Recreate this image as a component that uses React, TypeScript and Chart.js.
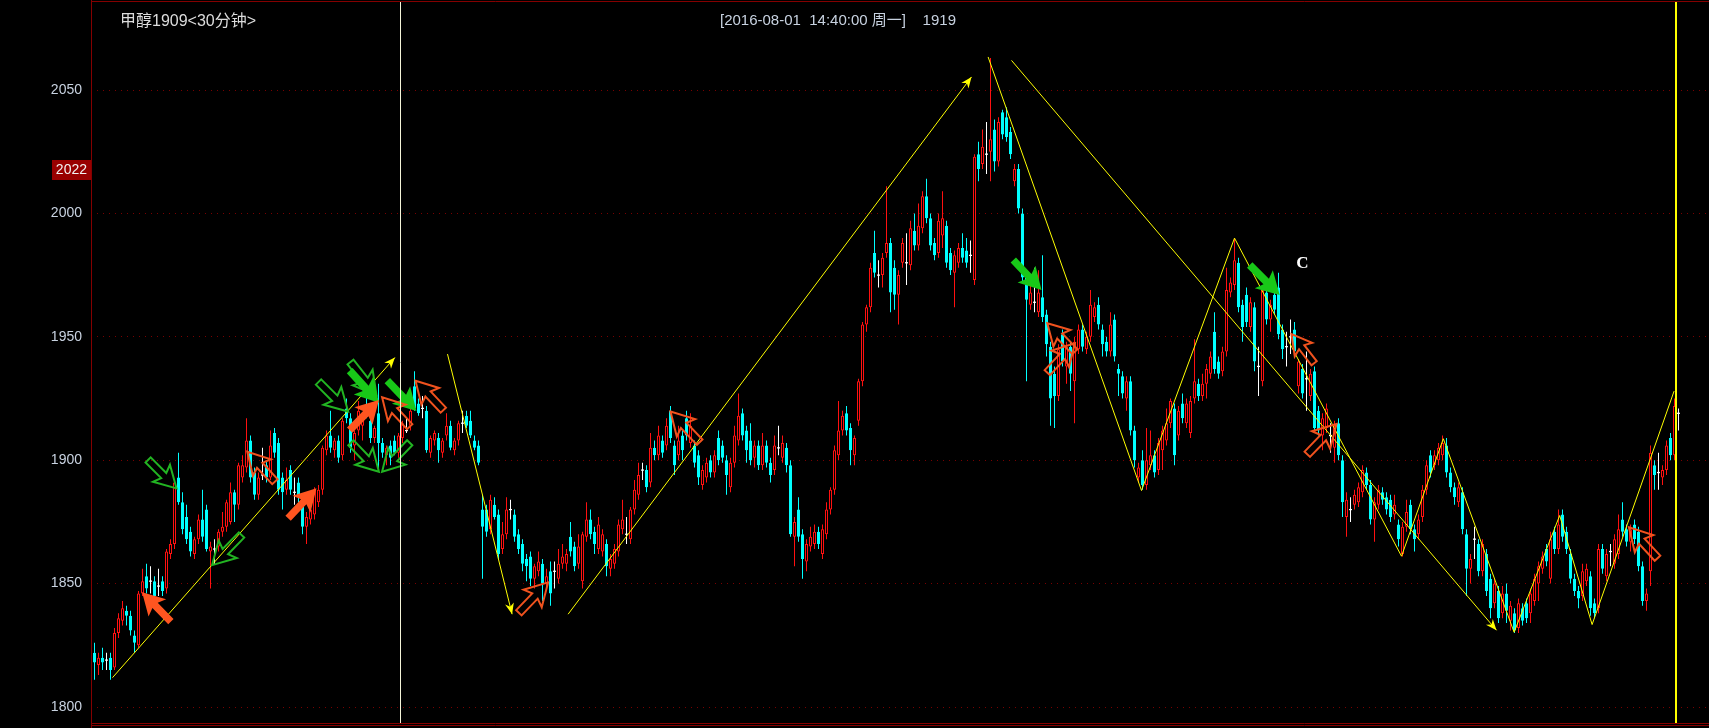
import React, { useEffect, useRef } from 'react';
import { Chart, registerables } from 'chart.js';

Chart.register(...registerables);

// ---------------- data ----------------
const opens = [
  1822,1817,1820,1819,1820,1816,1830,1835,1839,1837,
  1829,1825,1846,1853,1851,1851,1849,1851,1848,1862,
  1866,1893,1883,1877,1871,1862,1868,1876,1880,1863,
  1864,1865,1871,1873,1875,1887,1882,1893,1897,1908,
  1895,1886,1894,1898,1893,1911,1907,1893,1888,1896,
  1887,1891,1884,1873,1876,1878,1883,1888,1904,1910,
  1904,1908,1902,1921,1917,1906,1912,1914,1921,1916,
  1909,1919,1907,1902,1906,1908,1903,1909,1912,1914,
  1930,1923,1921,1920,1903,1908,1909,1903,1910,1914,
  1904,1908,1915,1918,1916,1908,1906,1880,1880,1872,
  1882,1878,1864,1870,1880,1878,1870,1866,1860,1861,
  1852,1855,1858,1850,1855,1855,1852,1858,1858,1869,
  1865,1858,1851,1869,1876,1871,1864,1863,1866,1856,
  1858,1863,1872,1870,1868,1880,1886,1896,1896,1891,
  1905,1902,1908,1906,1920,1906,1902,1910,1917,1907,
  1906,1902,1890,1893,1900,1895,1909,1906,1900,1889,
  1899,1908,1919,1912,1908,1901,1906,1898,1906,1899,
  1896,1905,1901,1905,1898,1869,1880,1870,1859,1865,
  1866,1871,1862,1870,1880,1888,1902,1912,1919,1913,
  1902,1916,1932,1955,1962,1984,1975,1975,1984,1988,
  1978,1967,1980,1980,1979,1993,1987,1994,2007,1998,
  1988,1984,1991,1995,1984,1976,1980,1986,1985,1983,
  1973,2024,2020,2024,2025,2034,2021,2041,2039,2033,
  2013,2018,2000,1974,1963,1964,1960,1966,1959,1946,
  1935,1926,1951,1938,1946,1932,1945,1953,1945,1950,
  1958,1963,1953,1948,1944,1957,1937,1934,1925,1932,
  1912,1893,1900,1890,1898,1902,1896,1904,1908,1915,
  1921,1910,1923,1915,1911,1925,1931,1926,1931,1935,
  1952,1940,1936,1944,1968,1971,1980,1963,1967,1954,
  1962,1938,1932,1968,1957,1967,1970,1953,1946,1950,
  1953,1930,1937,1933,1926,1936,1920,1910,1913,1910,
  1905,1915,1900,1877,1880,1882,1883,1887,1895,1890,
  1876,1882,1887,1885,1884,1878,1874,1862,1873,1882,
  1872,1870,1877,1888,1902,1898,1900,1902,1906,1895,
  1889,1883,1887,1870,1856,1868,1866,1855,1862,1852,
  1842,1847,1838,1846,1835,1838,1832,1840,1842,1838,
  1843,1850,1856,1864,1852,1871,1864,1878,1871,1862,
  1852,1847,1845,1851,1853,1842,1840,1864,1853,1863,
  1858,1862,1876,1872,1867,1874,1871,1857,1843,1855,
  1898,1895,1893,1896,1909,1902,1919,
];

const highs = [
  1826,1822,1824,1822,1822,1832,1838,1843,1841,1839,
  1831,1847,1856,1858,1857,1853,1856,1853,1864,1868,
  1892,1903,1887,1882,1873,1869,1878,1888,1882,1867,
  1868,1872,1879,1884,1891,1888,1899,1902,1917,1910,
  1897,1895,1905,1900,1912,1913,1909,1895,1897,1898,
  1893,1893,1886,1879,1882,1889,1890,1906,1912,1920,
  1909,1910,1917,1925,1919,1912,1924,1919,1926,1918,
  1914,1931,1909,1906,1908,1910,1911,1916,1917,1921,
  1936,1925,1926,1922,1910,1912,1911,1909,1919,1916,
  1909,1916,1920,1920,1920,1910,1908,1886,1882,1886,
  1885,1880,1875,1885,1884,1880,1872,1868,1862,1863,
  1858,1863,1860,1856,1859,1859,1864,1866,1864,1875,
  1867,1870,1871,1883,1880,1873,1877,1872,1868,1862,
  1866,1876,1884,1877,1881,1892,1899,1899,1898,1911,
  1908,1914,1910,1917,1922,1908,1914,1912,1920,1919,
  1908,1904,1898,1901,1902,1904,1912,1908,1902,1901,
  1914,1927,1921,1914,1915,1908,1908,1911,1908,1901,
  1910,1914,1910,1907,1900,1877,1885,1872,1868,1873,
  1874,1873,1874,1883,1889,1906,1924,1920,1922,1915,
  1910,1933,1956,1963,1980,1993,1981,1984,2011,1990,
  1981,1977,1990,1992,1997,2000,2004,2009,2014,2000,
  1990,2000,2009,1997,1986,1985,1988,1992,1990,1989,
  2024,2029,2034,2037,2063,2038,2039,2042,2043,2035,
  2020,2020,2002,1976,1975,1978,1977,1983,1961,1948,
  1938,1947,1953,1948,1948,1950,1955,1955,1952,1969,
  1964,1966,1955,1950,1960,1959,1939,1936,1934,1934,
  1914,1899,1904,1913,1912,1904,1909,1914,1921,1925,
  1923,1922,1927,1925,1926,1949,1933,1935,1939,1944,
  1960,1942,1946,1978,1974,1990,1982,1965,1970,1966,
  1964,1946,1970,1972,1965,1969,1976,1955,1952,1957,
  1956,1941,1939,1944,1937,1938,1922,1919,1923,1915,
  1916,1917,1902,1887,1885,1888,1891,1898,1897,1892,
  1885,1890,1889,1887,1886,1886,1876,1875,1884,1884,
  1874,1878,1890,1900,1904,1904,1907,1910,1909,1897,
  1891,1891,1889,1872,1862,1873,1868,1868,1864,1854,
  1852,1849,1849,1850,1843,1840,1844,1842,1844,1848,
  1854,1859,1863,1866,1871,1873,1880,1880,1873,1864,
  1854,1849,1858,1858,1855,1844,1866,1866,1864,1866,
  1870,1878,1883,1874,1874,1876,1873,1859,1848,1906,
  1900,1903,1898,1908,1911,1925,1921,
];

const lows = [
  1811,1813,1815,1815,1811,1815,1828,1833,1833,1829,
  1822,1824,1845,1846,1846,1844,1845,1845,1846,1860,
  1864,1882,1870,1866,1861,1860,1866,1867,1863,1848,
  1858,1863,1869,1871,1874,1875,1880,1891,1895,1891,
  1884,1884,1892,1891,1892,1901,1886,1880,1886,1886,
  1882,1883,1870,1866,1874,1876,1881,1886,1902,1903,
  1901,1899,1900,1915,1903,1900,1910,1908,1917,1907,
  1907,1896,1901,1898,1898,1902,1901,1907,1911,1912,
  1920,1918,1917,1903,1901,1906,1899,1901,1908,1904,
  1902,1906,1911,1913,1909,1904,1898,1852,1869,1870,
  1876,1860,1862,1868,1876,1867,1862,1855,1851,1849,
  1848,1853,1843,1848,1841,1848,1850,1856,1855,1861,
  1855,1856,1848,1867,1868,1862,1862,1861,1853,1853,
  1856,1861,1870,1866,1866,1878,1884,1892,1887,1889,
  1900,1900,1901,1904,1907,1894,1900,1900,1908,1905,
  1897,1890,1888,1891,1893,1893,1898,1899,1886,1887,
  1897,1906,1908,1899,1898,1897,1896,1896,1897,1891,
  1894,1902,1899,1895,1869,1857,1867,1852,1855,1863,
  1864,1864,1860,1868,1878,1886,1900,1910,1910,1898,
  1898,1914,1930,1952,1960,1974,1970,1970,1982,1960,
  1961,1955,1978,1971,1977,1985,1985,1992,1996,1985,
  1981,1982,1986,1978,1975,1962,1978,1980,1978,1976,
  1971,2013,2018,2016,2013,2017,2019,2030,2029,2022,
  2011,2000,1972,1932,1961,1960,1958,1956,1942,1914,
  1913,1924,1938,1931,1928,1915,1943,1944,1943,1948,
  1956,1953,1942,1942,1942,1940,1926,1925,1920,1910,
  1897,1891,1888,1888,1896,1893,1894,1896,1906,1913,
  1898,1908,1915,1913,1909,1923,1924,1924,1925,1933,
  1935,1933,1934,1942,1966,1969,1960,1948,1954,1952,
  1936,1926,1930,1955,1952,1959,1949,1941,1938,1943,
  1942,1927,1925,1920,1924,1911,1910,1904,1911,1903,
  1899,1900,1877,1869,1875,1880,1881,1885,1888,1874,
  1867,1880,1882,1878,1875,1876,1865,1861,1871,1870,
  1863,1868,1875,1886,1893,1896,1898,1900,1893,1887,
  1882,1881,1870,1845,1850,1860,1853,1853,1845,1836,
  1840,1834,1836,1834,1831,1830,1830,1833,1834,1834,
  1841,1843,1854,1857,1850,1862,1862,1867,1862,1850,
  1845,1840,1843,1849,1837,1836,1838,1854,1851,1857,
  1856,1860,1869,1865,1863,1866,1855,1841,1839,1849,
  1888,1888,1890,1894,1900,1900,1912,
];

const closes = [
  1818,1820,1818,1819,1815,1830,1836,1840,1837,1831,
  1826,1846,1851,1848,1851,1845,1849,1847,1863,1866,
  1891,1883,1872,1868,1863,1868,1876,1869,1864,1865,
  1864,1871,1873,1883,1887,1882,1898,1898,1908,1893,
  1886,1893,1894,1893,1906,1903,1888,1887,1892,1888,
  1887,1885,1873,1877,1880,1888,1888,1905,1910,1905,
  1908,1901,1916,1917,1905,1911,1920,1918,1918,1909,
  1913,1907,1903,1905,1901,1903,1910,1915,1912,1920,
  1921,1919,1921,1904,1909,1911,1904,1908,1914,1905,
  1908,1915,1915,1914,1910,1905,1899,1873,1871,1884,
  1877,1862,1870,1880,1880,1869,1864,1858,1857,1852,
  1857,1859,1850,1853,1846,1855,1858,1861,1862,1863,
  1857,1865,1870,1876,1870,1866,1874,1870,1857,1860,
  1864,1874,1876,1870,1880,1888,1894,1896,1889,1905,
  1902,1910,1903,1914,1909,1898,1908,1904,1910,1914,
  1899,1893,1896,1899,1895,1902,1900,1901,1894,1899,
  1910,1918,1910,1904,1900,1906,1898,1906,1899,1894,
  1906,1905,1907,1898,1870,1875,1869,1860,1866,1869,
  1871,1866,1872,1880,1888,1904,1912,1918,1912,1904,
  1909,1932,1955,1962,1978,1976,1975,1982,1988,1968,
  1967,1975,1988,1980,1994,1987,1995,2007,1998,1987,
  1983,1997,1998,1980,1977,1983,1986,1982,1980,1983,
  2023,2018,2027,2024,2030,2021,2037,2032,2031,2024,
  2018,2002,1974,1965,1968,1964,1968,1958,1947,1925,
  1926,1945,1940,1946,1935,1948,1953,1946,1950,1963,
  1962,1955,1947,1944,1955,1942,1935,1927,1932,1912,
  1900,1897,1890,1900,1902,1895,1907,1912,1915,1924,
  1902,1920,1917,1923,1924,1932,1926,1931,1937,1942,
  1937,1935,1944,1969,1972,1981,1962,1954,1956,1964,
  1940,1938,1969,1957,1963,1961,1951,1945,1946,1950,
  1944,1940,1927,1933,1935,1913,1912,1917,1921,1910,
  1914,1902,1883,1884,1880,1886,1889,1896,1890,1876,
  1883,1888,1884,1880,1877,1882,1868,1873,1879,1872,
  1868,1876,1888,1898,1895,1902,1905,1907,1895,1889,
  1885,1889,1872,1856,1860,1868,1855,1866,1847,1840,
  1850,1836,1846,1839,1841,1831,1842,1835,1836,1846,
  1852,1857,1861,1859,1868,1864,1874,1869,1864,1852,
  1847,1844,1855,1856,1840,1838,1864,1856,1862,1863,
  1868,1872,1871,1867,1872,1868,1857,1843,1846,1903,
  1894,1895,1896,1906,1902,1922,1919,
];

const yTicks = [1800, 1850, 1900, 1950, 2000, 2050];

const titleText = '甲醇1909<30分钟>';
const cursorText = '[2016-08-01  14:40:00 周一]    1919';
const cursorIndex = 76.5;
const lastBarMarker = 395.375;
const priceTagText = '2022';
const priceTagValue = 2017.6;
const waveLabel = { text: 'C', x: 302, y: 1979.5 };

// yellow trend lines [index, price]
const trendA = [[4.5, 1811.9], [75.1, 1941.6]];
const trendB = [[88.25, 1943], [104.4, 1837.6]];
const trendC = [[118.4, 1837.6], [219.25, 2055.3]];
const trendD = [[229.25, 2062], [350.5, 1831.1]];
const zigzag = [
  [223.4, 2063.4], [261.75, 1887.7], [285, 1990], [326.75, 1861.1], [337.2, 1908.7],
  [354.9, 1830.3], [366.3, 1877.6], [374.4, 1833.4], [394.9, 1928],
];

// signal arrows: [tailIndex, tailPrice, tipIndex, tipPrice]
const greenHollow = [
  [13.4, 1900.1, 20.5, 1888.6],
  [36.75, 1869.7, 29.4, 1857.5],
  [56, 1931.7, 63.4, 1919.7],
  [64, 1939.8, 70.5, 1926.4],
  [64.1, 1907.1, 71.1, 1895.3],
  [78.8, 1907.1, 71.9, 1895.3],
];
const greenFilled = [
  [63.8, 1936.3, 71.1, 1923.3],
  [73.2, 1932.2, 80.5, 1919.9],
  [229.7, 1981.1, 236.75, 1969],
  [288.8, 1979.1, 296.3, 1966.9],
];
const orangeFilled = [
  [19.1, 1834.6, 11.9, 1846.5],
  [48.4, 1876.5, 55.5, 1888.6],
  [63.8, 1912.2, 71.1, 1924.4],
];
const orangeHollow = [
  [45.1, 1891.3, 38.2, 1903.4],
  [78.8, 1913.6, 71.9, 1925.5],
  [87.2, 1920.3, 80.25, 1932.2],
  [106.1, 1838.2, 113.4, 1850.5],
  [151.3, 1907.3, 144, 1919.7],
  [245.1, 1944, 238.2, 1955.5],
  [238.2, 1935.5, 245.1, 1947.4],
  [304.9, 1939.3, 299.25, 1951.1],
  [303.2, 1902.4, 310.5, 1914.7],
  [390.75, 1860.3, 383.6, 1872.8],
];

// ---------------- styles ----------------
const W = 1709;
const H = 728;
const RED = '#ff1010';
const CYAN = '#00ffff';
const WHITE = '#ffffff';
const YELLOW = '#ffff00';
const CURSOR = '#f4f4d8';
const FRAME = '#840000';
const GRID = '#7a0000';
const TEXT = '#c8d2e0';
const FONT = '"Liberation Sans", Arial, "Noto Sans CJK SC", sans-serif';

function blockArrow(ctx: CanvasRenderingContext2D, x1: number, y1: number, x2: number, y2: number, color: string, filled: boolean) {
  const dx = x2 - x1;
  const dy = y2 - y1;
  const L = Math.hypot(dx, dy);
  if (!L) return;
  const ux = dx / L, uy = dy / L;
  const px = -uy, py = ux;
  const headL = L * 0.45;
  const headW = L * 0.3;
  const shaftW = L * 0.09;
  const bx = x2 - ux * headL, by = y2 - uy * headL;
  const barbBack = L * 0.08;
  const pts = [
    [x1 + px * shaftW, y1 + py * shaftW],
    [bx + px * shaftW, by + py * shaftW],
    [bx - ux * barbBack + px * headW, by - uy * barbBack + py * headW],
    [x2, y2],
    [bx - ux * barbBack - px * headW, by - uy * barbBack - py * headW],
    [bx - px * shaftW, by - py * shaftW],
    [x1 - px * shaftW, y1 - py * shaftW],
  ];
  ctx.save();
  ctx.beginPath();
  ctx.moveTo(pts[0][0], pts[0][1]);
  for (let k = 1; k < pts.length; k++) ctx.lineTo(pts[k][0], pts[k][1]);
  ctx.closePath();
  if (filled) {
    ctx.fillStyle = color;
    ctx.fill();
  } else {
    ctx.lineWidth = 2;
    ctx.lineJoin = 'miter';
    ctx.strokeStyle = color;
    ctx.stroke();
  }
  ctx.restore();
}

function lineHead(ctx: CanvasRenderingContext2D, x1: number, y1: number, x2: number, y2: number) {
  const dx = x2 - x1, dy = y2 - y1;
  const L = Math.hypot(dx, dy);
  const ux = dx / L, uy = dy / L;
  const px = -uy, py = ux;
  const hl = 11, hw = 4.5;
  ctx.save();
  ctx.fillStyle = YELLOW;
  ctx.beginPath();
  ctx.moveTo(x2, y2);
  ctx.lineTo(x2 - ux * hl + px * hw, y2 - uy * hl + py * hw);
  ctx.lineTo(x2 - ux * hl * 0.7, y2 - uy * hl * 0.7);
  ctx.lineTo(x2 - ux * hl - px * hw, y2 - uy * hl - py * hw);
  ctx.closePath();
  ctx.fill();
  ctx.restore();
}

export default function App() {
  const ref = useRef<HTMLCanvasElement>(null);

  useEffect(() => {
    const canvas = ref.current;
    if (!canvas) return;
    const n = closes.length;
    const index = Array.from({ length: n }, (_, i) => i);
    const colors = index.map((i) => (closes[i] > opens[i] ? RED : closes[i] < opens[i] ? CYAN : WHITE));
    const bodyFill = index.map((i) => (closes[i] > opens[i] ? '#000000' : colors[i]));
    const wickData = index.map((i) => ({ x: i, y: [lows[i], highs[i]] }));
    const bodyData = index.map((i) => {
      const o = opens[i], c = closes[i];
      if (o === c) return { x: i, y: [o - 0.25, o + 0.25] };
      return { x: i, y: [Math.min(o, c), Math.max(o, c)] };
    });
    const bodyBorder = index.map((i) => (opens[i] === closes[i] ? 0 : 1));

    const toPts = (arr: number[][]) => arr.map(([x, y]) => ({ x, y }));
    const lineDs = (arr: number[][]) => ({
      type: 'line' as const,
      data: toPts(arr),
      borderColor: YELLOW,
      borderWidth: 1,
      pointRadius: 0,
      fill: false,
      tension: 0,
      order: 0,
    });

    const overlay = {
      id: 'overlay',
      beforeDraw(chart: any) {
        const c = chart.ctx;
        c.save();
        c.fillStyle = '#000000';
        c.fillRect(0, 0, chart.width, chart.height);
        c.restore();
      },
      afterDatasetsDraw(chart: any) {
        const c = chart.ctx as CanvasRenderingContext2D;
        const xs = chart.scales.x;
        const ys = chart.scales.y;
        const X = (v: number) => xs.getPixelForValue(v);
        const Y = (v: number) => ys.getPixelForValue(v);
        const area = chart.chartArea;
        c.save();
        c.beginPath();
        c.rect(area.left, area.top, area.right - area.left, area.bottom - area.top);
        c.clip();

        [trendA, trendB, trendC, trendD].forEach((t) => {
          const a = t[t.length - 2], b = t[t.length - 1];
          lineHead(c, X(a[0]), Y(a[1]), X(b[0]), Y(b[1]));
        });

        greenHollow.forEach((a) => blockArrow(c, X(a[0]), Y(a[1]), X(a[2]), Y(a[3]), '#22b422', false));
        greenFilled.forEach((a) => blockArrow(c, X(a[0]), Y(a[1]), X(a[2]), Y(a[3]), '#18c818', true));
        orangeHollow.forEach((a) => blockArrow(c, X(a[0]), Y(a[1]), X(a[2]), Y(a[3]), '#f0521e', false));
        orangeFilled.forEach((a) => blockArrow(c, X(a[0]), Y(a[1]), X(a[2]), Y(a[3]), '#ff5520', true));

        c.strokeStyle = CURSOR;
        c.lineWidth = 1;
        c.beginPath();
        const cx = Math.round(X(cursorIndex)) + 0.5 - 1;
        c.moveTo(cx, 0);
        c.lineTo(cx, H);
        c.stroke();
        c.strokeStyle = YELLOW;
        c.lineWidth = 2;
        c.beginPath();
        const ex = Math.round(X(lastBarMarker));
        c.moveTo(ex, 0);
        c.lineTo(ex, H);
        c.stroke();

        c.fillStyle = '#ffffff';
        c.font = 'bold 17px "Liberation Serif", "DejaVu Serif", serif';
        c.textAlign = 'center';
        c.textBaseline = 'middle';
        c.fillText(waveLabel.text, X(waveLabel.x), Y(waveLabel.y));
        c.restore();
      },
      afterDraw(chart: any) {
        const c = chart.ctx as CanvasRenderingContext2D;
        const ys = chart.scales.y;
        const area = chart.chartArea;
        c.save();
        c.strokeStyle = FRAME;
        c.lineWidth = 1;
        c.beginPath();
        c.moveTo(area.left + 0.5, 0);
        c.lineTo(area.left + 0.5, H);
        c.moveTo(area.left, 1.5);
        c.lineTo(W, 1.5);
        c.moveTo(area.left, 723.5);
        c.lineTo(W, 723.5);
        c.moveTo(area.left, 725.5);
        c.lineTo(W, 725.5);
        c.stroke();

        c.textBaseline = 'middle';
        c.textAlign = 'left';
        c.font = '16px ' + FONT;
        c.fillStyle = '#dcdcdc';
        c.fillText(titleText, 120, 22);
        c.font = '15px ' + FONT;
        c.fillStyle = TEXT;
        c.fillText(cursorText, 720, 21);

        const py = ys.getPixelForValue(priceTagValue);
        c.fillStyle = '#990000';
        c.fillRect(52, Math.round(py) - 10, area.left - 52, 20);
        c.font = '14px ' + FONT;
        c.fillStyle = '#f2f2f2';
        c.textAlign = 'right';
        c.fillText(priceTagText, 87, Math.round(py));
        c.restore();
      },
    };

    const chart = new Chart(canvas, {
      type: 'bar',
      data: {
        datasets: [
          {
            type: 'bar',
            data: bodyData as any,
            backgroundColor: bodyFill,
            borderColor: colors,
            borderWidth: bodyBorder,
            borderSkipped: false,
            inflateAmount: 0,
            barThickness: 3,
            grouped: false,
            order: 1,
          } as any,
          {
            type: 'bar',
            data: wickData as any,
            backgroundColor: colors,
            borderWidth: 0,
            inflateAmount: 0,
            barThickness: 1,
            grouped: false,
            order: 2,
          } as any,
          lineDs(trendA) as any,
          lineDs(trendB) as any,
          lineDs(trendC) as any,
          lineDs(trendD) as any,
          lineDs(zigzag) as any,
        ],
      },
      options: {
        responsive: false,
        maintainAspectRatio: false,
        devicePixelRatio: 1,
        animation: false,
        events: [],
        layout: { padding: { top: 2, bottom: 5, left: 0, right: 0 } },
        plugins: { legend: { display: false }, tooltip: { enabled: false } },
        scales: {
          x: {
            type: 'linear',
            display: false,
            offset: false,
            min: -0.875,
            max: 403.625,
            grid: { display: false },
          },
          y: {
            type: 'linear',
            position: 'left',
            min: 1793.52,
            max: 2085.66,
            afterBuildTicks: (scale: any) => {
              scale.ticks = yTicks.map((v) => ({ value: v }));
            },
            afterFit: (scale: any) => {
              scale.width = 91;
              scale.paddingTop = 0;
              scale.paddingBottom = 0;
            },
            grid: { color: GRID, lineWidth: 1, drawTicks: false },
            border: { display: false, dash: [1, 5] },
            ticks: {
              color: TEXT,
              padding: 9,
              font: { size: 14, family: FONT },
              callback: (v: any) => String(v),
            },
          },
        },
      } as any,
      plugins: [overlay],
    });

    return () => chart.destroy();
  }, []);

  return (
    <div style={{ position: 'fixed', left: 0, top: 0, width: W, height: H, background: '#000' }}>
      <canvas ref={ref} width={W} height={H} style={{ display: 'block', width: W, height: H }} />
    </div>
  );
}
